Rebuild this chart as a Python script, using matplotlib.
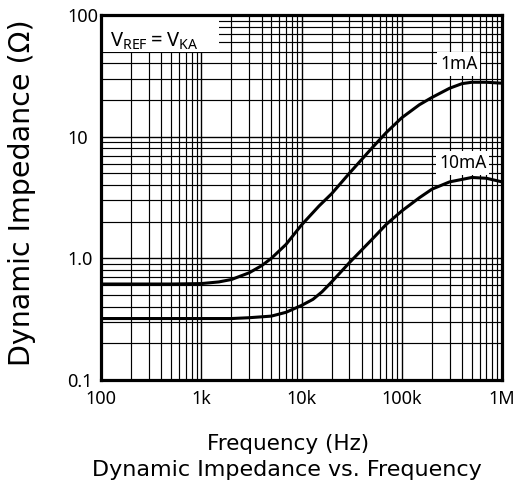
import matplotlib
matplotlib.use('Agg')
import matplotlib.pyplot as plt
from matplotlib.patches import Rectangle
from matplotlib.ticker import FixedLocator, NullFormatter

# frequency in Hz, impedance in ohm
FREQ_1MA = [100, 200, 500, 1e3, 1.5e3, 2e3, 3e3, 4e3, 5e3, 7e3, 1e4, 1.5e4, 2e4, 3e4,
            5e4, 7e4, 1e5, 1.5e5, 2e5, 3e5, 4e5, 5e5, 7e5, 1e6]
Z_1MA = [0.615, 0.615, 0.615, 0.62, 0.64, 0.67, 0.76, 0.87, 1.0, 1.3, 1.88, 2.7, 3.4, 5.0,
         8.0, 10.8, 14.3, 18.3, 21.0, 25.0, 27.3, 28.0, 28.0, 27.5]

FREQ_10MA = [100, 500, 1e3, 2e3, 3e3, 5e3, 7e3, 1e4, 1.3e4, 1.6e4, 2e4, 3e4, 5e4, 7e4,
             1e5, 1.5e5, 2e5, 3e5, 5e5, 7e5, 1e6]
Z_10MA = [0.32, 0.32, 0.32, 0.32, 0.325, 0.335, 0.36, 0.41, 0.46, 0.53, 0.64, 0.92, 1.42,
          1.9, 2.45, 3.15, 3.7, 4.25, 4.62, 4.55, 4.25]

X_TICKS = [100, 1e3, 1e4, 1e5, 1e6]
X_LABELS = ['100', '1k', '10k', '100k', '1M']
Y_TICKS = [0.1, 1, 10, 100]
Y_LABELS = ['0.1', '1.0', '10', '100']

SMALL = 'Noto Sans'
BIG = 'DejaVu Sans'
plt.rcParams['mathtext.fontset'] = 'custom'
plt.rcParams['mathtext.rm'] = SMALL

fig = plt.figure(figsize=(5.13, 4.9), dpi=100)
ax = fig.add_axes([101/513, 1 - 380/490, 401/513, 365/490])
ax.set_xscale('log')
ax.set_yscale('log')
ax.set_xlim(100, 1e6)
ax.set_ylim(0.1, 100)

# grid: every decade plus 2..9
minors_x = [m * 10**d for d in range(2, 6) for m in range(2, 10)]
minors_y = [m * 10**d for d in range(-1, 2) for m in range(2, 10)]
ax.xaxis.set_minor_locator(FixedLocator(minors_x))
ax.yaxis.set_minor_locator(FixedLocator(minors_y))
ax.xaxis.set_minor_formatter(NullFormatter())
ax.yaxis.set_minor_formatter(NullFormatter())
ax.grid(True, which='major', color='black', lw=1.0)
ax.grid(True, which='minor', color='black', lw=0.85)
ax.set_axisbelow(True)

ax.set_xticks(X_TICKS)
ax.set_xticklabels(X_LABELS, family=SMALL, fontsize=13)
ax.set_yticks(Y_TICKS)
ax.set_yticklabels(Y_LABELS, family=SMALL, fontsize=13, ha='left')
ax.tick_params(which='both', length=0)
ax.tick_params(axis='x', pad=7)
ax.tick_params(axis='y', pad=24.5)

for sp in ax.spines.values():
    sp.set_linewidth(2.3)
    sp.set_zorder(6)

ax.plot(FREQ_1MA, Z_1MA, color='black', lw=2.2, zorder=3)
ax.plot(FREQ_10MA, Z_10MA, color='black', lw=2.2, zorder=3)

# white box for the condition text
ax.add_patch(Rectangle((0, 1 - 37/365), 118/401, 37/365, transform=ax.transAxes,
                       facecolor='white', edgecolor='none', zorder=4))
ax.text(123, 61, r'$\mathrm{V_{REF} = V_{KA}}$', fontsize=14.5, ha='left',
        va='center', zorder=5)

ax.text(2.41e5, 39.5, '1mA', family=SMALL, fontsize=12.5, ha='left', va='center',
        zorder=5, bbox=dict(facecolor='white', edgecolor='none', pad=2))
ax.text(2.35e5, 6.1, '10mA', family=SMALL, fontsize=12.5, ha='left', va='center',
        zorder=5, bbox=dict(facecolor='white', edgecolor='none', pad=2))

fig.text(22/513, 1 - 193/490, 'Dynamic Impedance (\u03a9)', family=BIG, fontsize=20.5,
         rotation=90, ha='center', va='center')
fig.text(288/513, 1 - 444/490, 'Frequency (Hz)', family=BIG, fontsize=15.5,
         ha='center', va='center')
fig.text(287/513, 1 - 470/490, 'Dynamic Impedance vs. Frequency', family=BIG,
         fontsize=16, ha='center', va='center')

fig.savefig('out.png', dpi=100)
